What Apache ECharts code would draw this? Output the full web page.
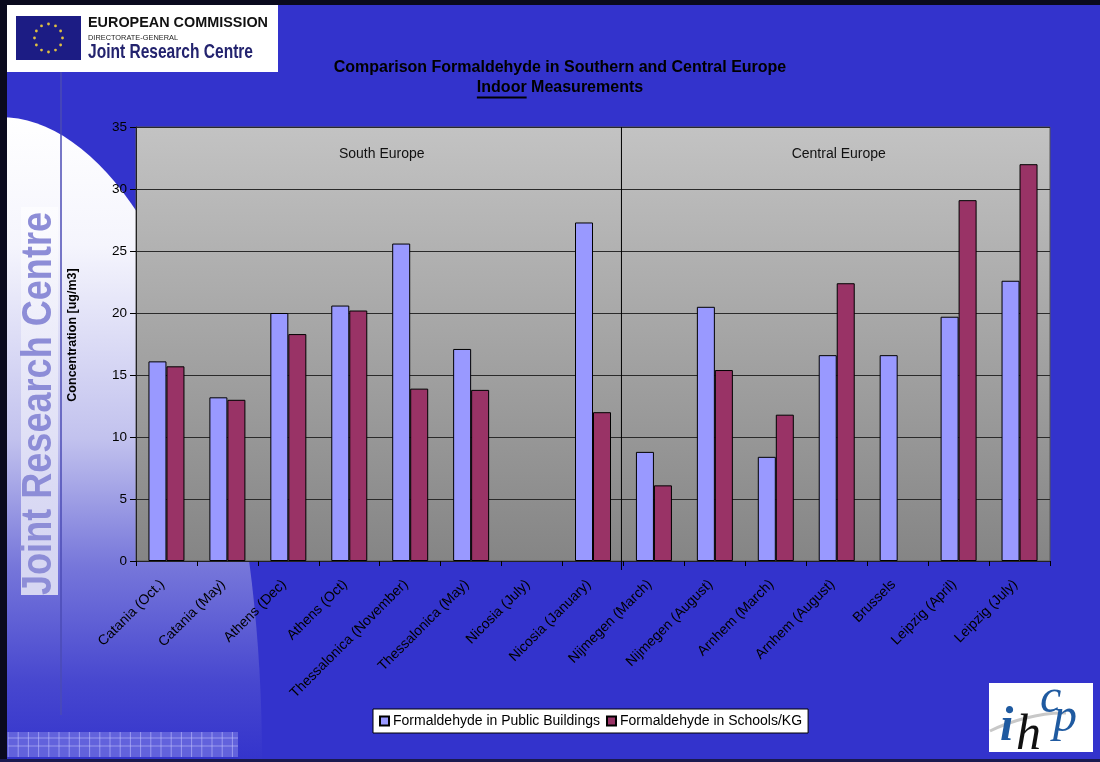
<!DOCTYPE html>
<html>
<head>
<meta charset="utf-8">
<script src="https://cdn.jsdelivr.net/npm/echarts@6/dist/echarts.min.js"></script>
<style>
  html, body { margin: 0; padding: 0; background: #3333cc; }
  #chart { width: 1100px; height: 762px; }
</style>
</head>
<body>
<div id="chart"></div>
<script>
// Sampling sites (x axis categories)
const categories = [
  'Catania (Oct.)', 'Catania (May)', 'Athens (Dec)', 'Athens (Oct)',
  'Thessalonica (November)', 'Thessalonica (May)', 'Nicosia (July)', 'Nicosia (January)',
  'Nijmegen (March)', 'Nijmegen (August)', 'Arnhem (March)', 'Arnhem (August)',
  'Brussels', 'Leipzig (April)', 'Leipzig (July)'
];

// Formaldehyde concentrations, ug/m3
const publicBuildings = [16.1, 13.2, 20.0, 20.6, 25.6, 17.1, null, 27.3, 8.8, 20.5, 8.4, 16.6, 16.6, 19.7, 22.6];
const schoolsKG       = [15.7, 13.0, 18.3, 20.2, 13.9, 13.8, null, 12.0, 6.1, 15.4, 11.8, 22.4, null, 29.1, 32.0];

const seriesNames = ['Formaldehyde in Public Buildings', 'Formaldehyde in Schools/KG'];

// Value axis range
const yMin = 0, yMax = 35, yStep = 5;

// Regional groups of categories (first and last index)
const regionNames = ['South Europe', 'Central Europe'];
const regionFirst = [0, 8];
const regionLast  = [7, 14];

const titleLine1 = 'Comparison Formaldehyde in Southern and Central Europe';
const titleUnderlined = 'Indoor';
const titleRest = ' Measurements';
const yAxisName = 'Concentration [ug/m3]';

const chart = echarts.init(document.getElementById('chart'), null, { renderer: 'canvas' });

const baseFont = '"Liberation Sans", Arial, sans-serif';

chart.setOption({
  backgroundColor: '#3333cc',
  animation: false,
  textStyle: { fontFamily: baseFont },
  grid: {
    left: 136, right: 50, top: 127, bottom: 201,
    show: true,
    borderColor: '#555',
    borderWidth: 1,
    backgroundColor: new echarts.graphic.LinearGradient(0, 0, 0, 1, [
      { offset: 0, color: '#c3c3c3' },
      { offset: 1, color: '#858585' }
    ])
  },
  legend: {
    data: seriesNames,
    left: 373, top: 709,
    backgroundColor: '#ffffff',
    borderColor: '#000',
    borderWidth: 1,
    padding: [5, 6, 5, 6],
    itemWidth: 9, itemHeight: 9, itemGap: 6,
    icon: 'rect',
    textStyle: { color: '#000', fontSize: 14, fontFamily: baseFont, padding: [0, 0, 0, -1] }
  },
  xAxis: {
    type: 'category',
    data: categories,
    axisLine: { lineStyle: { color: '#222', width: 1 } },
    axisTick: { show: true, length: 5, interval: 0, lineStyle: { color: '#000' } },
    axisLabel: {
      interval: 0, rotate: 45, margin: 17, padding: [0, 6, 0, 0],
      color: '#000', fontSize: 14, fontFamily: baseFont
    }
  },
  yAxis: {
    type: 'value',
    min: yMin, max: yMax, interval: yStep,
    axisLine: { show: true, lineStyle: { color: '#222', width: 1 } },
    axisTick: { show: true, length: 6, lineStyle: { color: '#000' } },
    axisLabel: { color: '#000', fontSize: 13.5, margin: 9, fontFamily: baseFont },
    splitLine: { show: true, lineStyle: { color: '#2a2a2a', width: 1 } }
  },
  series: [
    {
      name: seriesNames[0], type: 'bar', data: publicBuildings,
      barWidth: 18, barGap: '0%',
      itemStyle: { color: '#9999ff', borderColor: '#000', borderWidth: 1 }
    },
    {
      name: seriesNames[1], type: 'bar', data: schoolsKG,
      barWidth: 18, barGap: '0%',
      itemStyle: { color: '#993366', borderColor: '#000', borderWidth: 1 }
    }
  ]
});

// ---- decorations and annotations placed from the chart's own scales ----
function measure(text, font) {
  const c = document.createElement('canvas').getContext('2d');
  c.font = font;
  return c.measureText(text).width;
}
// text squeezed horizontally to a given width (condensed lettering)
function fitText(text, font, width, el, style) {
  const s = width / measure(text, font);
  return Object.assign({ type: 'text', silent: true, scaleX: s }, el, {
    style: Object.assign({ text: text, font: font }, style)
  });
}

const xPix = i => chart.convertToPixel({ xAxisIndex: 0 }, categories[i]);
const yTop = chart.convertToPixel({ yAxisIndex: 0 }, yMax);
const yBottom = chart.convertToPixel({ yAxisIndex: 0 }, yMin);
const bandW = xPix(1) - xPix(0);
const plotRight = xPix(categories.length - 1) + bandW / 2;
const dividerX = (xPix(regionLast[0]) + xPix(regionFirst[1])) / 2 - 2;

const graphics = [];

// light sweep on the left side of the slide
const arcPts = [];
for (let d = 0; d <= 90; d += 2) {
  const t = d * Math.PI / 180;
  arcPts.push([262 * Math.sin(t), 760 - 643 * Math.cos(t)]);
}
arcPts.push([0, 760]);
graphics.push({
  type: 'polygon', z: -20, silent: true,
  shape: { points: arcPts },
  style: {
    fill: new echarts.graphic.LinearGradient(0, 0, 0, 1, [
      { offset: 0, color: '#ffffff' },
      { offset: 0.2, color: '#f5f5fd' },
      { offset: 0.5, color: '#c2c2ee' },
      { offset: 0.7, color: '#7676da' },
      { offset: 0.88, color: '#4747cf' },
      { offset: 1, color: '#3434cc' }
    ])
  }
});

// vertical brand strip
graphics.push({
  type: 'rect', z: -18, silent: true,
  shape: { x: 21, y: 207, width: 37, height: 388 },
  style: {
    fill: new echarts.graphic.LinearGradient(0, 0, 0, 1, [
      { offset: 0, color: 'rgba(255,255,255,0.6)' },
      { offset: 1, color: '#d6d6f2' }
    ])
  }
});
graphics.push(fitText('Joint Research Centre', 'bold 43px "Liberation Sans", sans-serif', 383,
  { z: -17, x: 39, y: 403.5, rotation: Math.PI / 2 },
  { fill: '#8d8dd7', align: 'center', verticalAlign: 'middle' }));
graphics.push({
  type: 'line', z: -16, silent: true,
  shape: { x1: 61, y1: 72, x2: 61, y2: 715 },
  style: { stroke: '#4b4bb5', lineWidth: 1.5 }
});

// tiled strip at the bottom left
graphics.push({
  type: 'rect', z: -15, silent: true,
  shape: { x: 8, y: 732, width: 230, height: 25 },
  style: { fill: '#6262dc' }
});
for (let gx = 8; gx <= 238; gx += 10.2) {
  graphics.push({ type: 'line', z: -14, silent: true,
    shape: { x1: gx, y1: 732, x2: gx, y2: 757 },
    style: { stroke: 'rgba(200,200,255,0.55)', lineWidth: 1 } });
}
for (const gy of [738, 746]) {
  graphics.push({ type: 'line', z: -14, silent: true,
    shape: { x1: 8, y1: gy, x2: 238, y2: gy },
    style: { stroke: 'rgba(200,200,255,0.55)', lineWidth: 1 } });
}

// slide frame
graphics.push({ type: 'rect', z: 50, silent: true, shape: { x: 0, y: 0, width: 7, height: 762 }, style: { fill: '#0a0a1e' } });
graphics.push({ type: 'rect', z: 50, silent: true, shape: { x: 0, y: 0, width: 1100, height: 5 }, style: { fill: '#0a0a1e' } });
graphics.push({ type: 'rect', z: 50, silent: true, shape: { x: 0, y: 759, width: 1100, height: 3 }, style: { fill: '#1a1a50' } });

// European Commission header block
graphics.push({ type: 'rect', z: 10, silent: true, shape: { x: 7, y: 5, width: 271, height: 67 }, style: { fill: '#ffffff' } });
graphics.push({ type: 'rect', z: 11, silent: true, shape: { x: 16, y: 16, width: 65, height: 44 }, style: { fill: '#1c1c84' } });
for (let k = 0; k < 12; k++) {
  const a = k * Math.PI / 6;
  graphics.push({ type: 'circle', z: 12, silent: true,
    shape: { cx: 48.5 + 14 * Math.cos(a), cy: 38 + 14 * Math.sin(a), r: 1.4 },
    style: { fill: '#e0c040' } });
}
graphics.push(fitText('EUROPEAN COMMISSION', 'bold 15.5px "Liberation Sans", sans-serif', 180,
  { z: 12, x: 88, y: 15 }, { fill: '#111', verticalAlign: 'top' }));
graphics.push(fitText('DIRECTORATE-GENERAL', '7.5px "Liberation Sans", sans-serif', 90,
  { z: 12, x: 88, y: 34 }, { fill: '#222', verticalAlign: 'top' }));
graphics.push(fitText('Joint Research Centre', 'bold 21px "Liberation Sans", sans-serif', 165,
  { z: 12, x: 88, y: 42 }, { fill: '#23236e', verticalAlign: 'top' }));

// IHCP logo block
graphics.push({ type: 'rect', z: 10, silent: true, shape: { x: 989, y: 683, width: 104, height: 69 }, style: { fill: '#ffffff' } });
graphics.push({ type: 'bezierCurve', z: 11, silent: true,
  shape: { x1: 990, y1: 731, cpx1: 1008, cpy1: 722, cpx2: 1040, cpy2: 712, x2: 1066, y2: 713 },
  style: { stroke: '#c8c8c8', lineWidth: 3, fill: null } });
graphics.push({ type: 'text', z: 12, silent: true, x: 1000, y: 752,
  style: { text: 'i', font: 'bold italic 48px "Liberation Serif", serif', fill: '#1f5aa0', verticalAlign: 'bottom' } });
graphics.push({ type: 'text', z: 12, silent: true, x: 1016, y: 761,
  style: { text: 'h', font: 'italic 50px "Liberation Serif", serif', fill: '#111', verticalAlign: 'bottom' } });
graphics.push({ type: 'text', z: 12, silent: true, x: 1040, y: 723,
  style: { text: 'c', font: 'italic 48px "Liberation Serif", serif', fill: '#1f5aa0', verticalAlign: 'bottom' } });
graphics.push({ type: 'text', z: 12, silent: true, x: 1053, y: 742,
  style: { text: 'p', font: 'italic 48px "Liberation Serif", serif', fill: '#1f5aa0', verticalAlign: 'bottom' } });

// Title, two lines, with the first word of line two underlined
const titleFont = 'bold 16px ' + baseFont;
const titleCx = 560;
graphics.push({ type: 'text', z: 20, silent: true, x: titleCx, y: 68,
  style: { text: titleLine1, font: titleFont, fill: '#000', align: 'center', verticalAlign: 'middle' } });
const line2 = titleUnderlined + titleRest;
const w2 = measure(line2, titleFont);
const wU = measure(titleUnderlined, titleFont);
const x2 = titleCx - w2 / 2;
graphics.push({ type: 'text', z: 20, silent: true, x: titleCx, y: 88,
  style: { text: line2, font: titleFont, fill: '#000', align: 'center', verticalAlign: 'middle' } });
graphics.push({ type: 'rect', z: 20, silent: true,
  shape: { x: x2, y: 96.5, width: wU, height: 2 }, style: { fill: '#000' } });

// value axis title
graphics.push({ type: 'text', z: 20, silent: true, x: 73, y: 335, rotation: Math.PI / 2,
  style: { text: yAxisName, font: 'bold 12.5px ' + baseFont, fill: '#000', align: 'center', verticalAlign: 'middle' } });

// Region divider and region labels inside the plot
graphics.push({ type: 'line', z: 30, silent: true,
  shape: { x1: dividerX, y1: yTop, x2: dividerX, y2: yBottom + 9 },
  style: { stroke: '#000', lineWidth: 1 } });
const regionLeft = [xPix(regionFirst[0]) - bandW / 2, dividerX];
const regionRight = [dividerX, plotRight];
for (let r = 0; r < regionNames.length; r++) {
  graphics.push({ type: 'text', z: 30, silent: true,
    x: (regionLeft[r] + regionRight[r]) / 2 + 3, y: yTop + 27,
    style: { text: regionNames[r], font: '14px ' + baseFont, fill: '#111', align: 'center', verticalAlign: 'middle' } });
}

chart.setOption({ graphic: graphics });
</script>
</body>
</html>
